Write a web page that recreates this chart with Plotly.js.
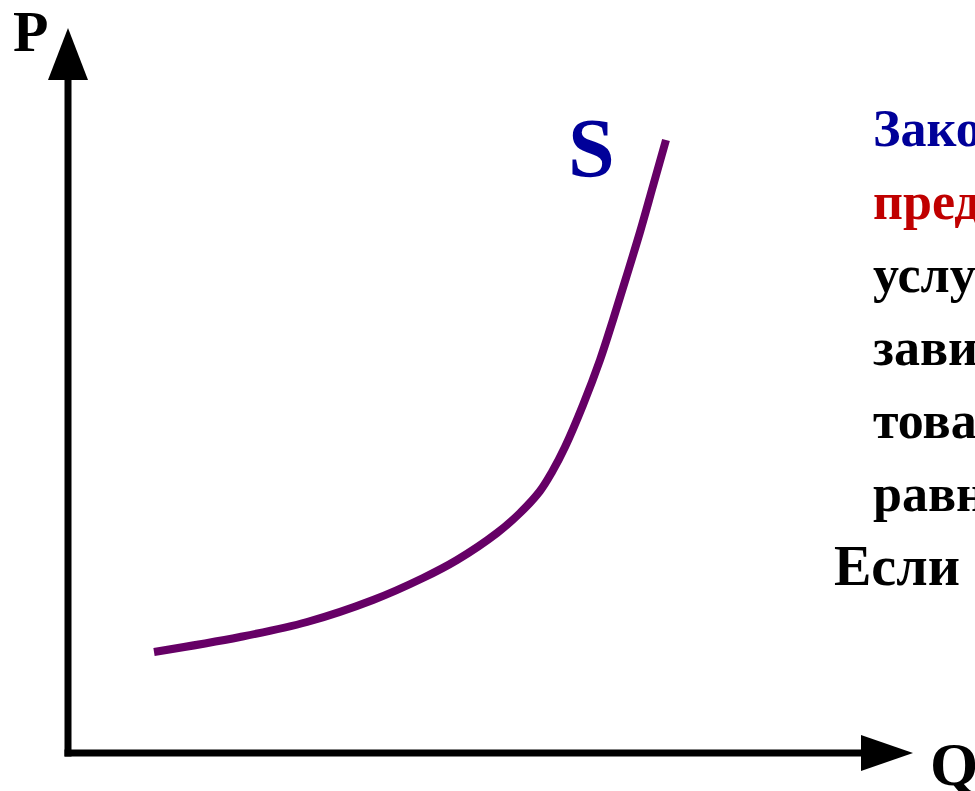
<!DOCTYPE html>
<html>
<head>
<meta charset="utf-8">
<script src="https://cdn.plot.ly/plotly-3.0.1.min.js"></script>
<style>
  html, body { margin: 0; padding: 0; background: #ffffff; }
  #chart { width: 975px; height: 791px; }
</style>
</head>
<body>
<div id="chart"></div>
<script>
// Supply curve S: quantity (Q) against price (P)
const quantity = [8.6, 17.2, 23.9, 30.5, 35.5, 38.9, 42.9, 45.2, 47.2, 48.4, 49.7, 51.5, 53.2, 54.5, 55.8, 57.2, 58.5, 59.8];
const price    = [10.1, 11.6, 13.1, 15.3, 17.5, 19.3, 22.0, 24.0, 26.2, 28.1, 30.6, 34.8, 39.3, 43.3, 47.5, 52.1, 56.7, 61.3];

// Axis extents (tips of the arrows) and labels
const qAxisEnd = 84.5;
const pAxisEnd = 72.5;
const axisLabels = ["P", "Q"];
const curveLabel = "S";

// Text beside the graph
const textLines  = ["Закон", "предложения", "услуг", "зависит", "товара", "равных"];
const textColors = ["#000099", "#c00000", "#000000", "#000000", "#000000", "#000000"];
const lastLine   = "Если";

const serif = "'Liberation Serif', 'Times New Roman', Times, serif";
const arrowLen = 5.2, arrowHalf = 2.0, axisW = 7;

const shapes = [
  // vertical (P) axis
  {type: "line", xref: "x", yref: "y", x0: 0, x1: 0, y0: -0.35, y1: pAxisEnd - arrowLen,
   line: {color: "#000", width: axisW}},
  // horizontal (Q) axis
  {type: "line", xref: "x", yref: "y", x0: -0.35, x1: qAxisEnd - arrowLen, y0: 0, y1: 0,
   line: {color: "#000", width: axisW}},
  // arrowheads
  {type: "path", xref: "x", yref: "y",
   path: `M ${-arrowHalf},${pAxisEnd - arrowLen} L 0,${pAxisEnd} L ${arrowHalf},${pAxisEnd - arrowLen} Z`,
   fillcolor: "#000", line: {width: 0}},
  {type: "path", xref: "x", yref: "y",
   path: `M ${qAxisEnd - arrowLen},${arrowHalf * 0.9} L ${qAxisEnd},0 L ${qAxisEnd - arrowLen},${-arrowHalf * 0.9} Z`,
   fillcolor: "#000", line: {width: 0}}
];

const annotations = [
  {x: -5.6, y: 72.2, text: axisLabels[0], xanchor: "left", yanchor: "middle",
   font: {family: serif, size: 58, color: "#000", weight: "bold"}},
  {x: 86.1, y: -1.1, text: axisLabels[1], xanchor: "left", yanchor: "middle",
   font: {family: serif, size: 62, color: "#000", weight: "bold"}},
  {x: 49.9, y: 60.5, text: curveLabel, xanchor: "left", yanchor: "middle",
   font: {family: serif, size: 84, color: "#000099", weight: "bold"}}
];

// rows of the paragraph, one annotation per row
const rowTop = 62.5, rowStep = 7.3, textX = 80.4;
textLines.forEach((t, i) => {
  annotations.push({
    x: textX, y: rowTop - i * rowStep, text: t, xanchor: "left", yanchor: "middle",
    font: {family: serif, size: 52, color: textColors[i], weight: "bold"}
  });
});
annotations.push({
  x: 76.5, y: 18.7, text: lastLine, xanchor: "left", yanchor: "middle",
  font: {family: serif, size: 56, color: "#000", weight: "bold"}
});

annotations.forEach(a => { a.showarrow = false; a.xref = "x"; a.yref = "y"; a.borderpad = 0; });

const data = [{
  x: quantity, y: price, type: "scatter", mode: "lines",
  line: {color: "#660066", width: 8, shape: "spline", smoothing: 1},
  hoverinfo: "skip"
}];

const layout = {
  width: 975, height: 791,
  margin: {l: 0, r: 0, t: 0, b: 0},
  paper_bgcolor: "#ffffff", plot_bgcolor: "#ffffff",
  showlegend: false,
  xaxis: {range: [-6.8, 90.7], visible: false, fixedrange: true},
  yaxis: {range: [-3.8, 75.3], visible: false, fixedrange: true},
  shapes: shapes,
  annotations: annotations
};

Plotly.newPlot("chart", data, layout, {displayModeBar: false, staticPlot: true});
</script>
</body>
</html>
